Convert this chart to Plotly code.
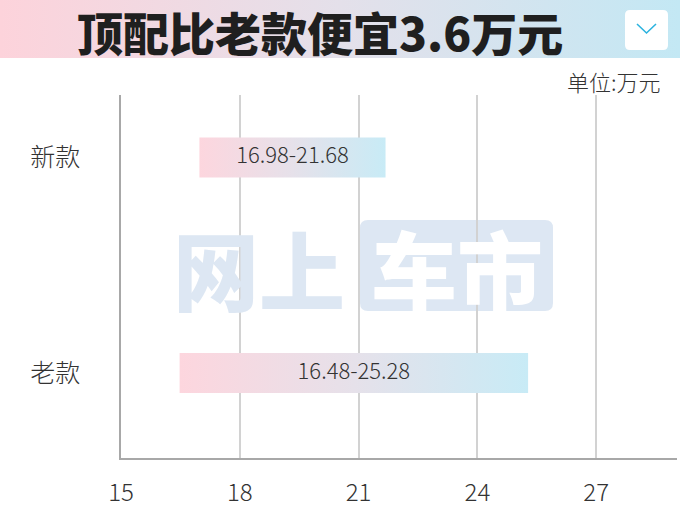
import plotly.graph_objects as go

# ---- data ----
categories = ["新款", "老款"]
low_values = [16.98, 16.48]
high_values = [21.68, 25.28]
range_labels = ["16.98-21.68", "16.48-25.28"]
x_tick_values = [15, 18, 21, 24, 27]
category_positions = [1, 0]
title_text = "顶配比老款便宜3.6万元"
unit_text = "单位:万元"

W, H = 680, 510
CJK = "Noto Sans CJK SC"


def fx(p):
    return p / W


def fy(p):
    return 1 - p / H


def rounded_rect(x0, y0, x1, y1, r):
    rx, ry = r / W, r / H
    X0, X1 = fx(x0), fx(x1)
    Y0, Y1 = fy(y1), fy(y0)
    return (f"M{X0+rx},{Y0} L{X1-rx},{Y0} Q{X1},{Y0} {X1},{Y0+ry} "
            f"L{X1},{Y1-ry} Q{X1},{Y1} {X1-rx},{Y1} L{X0+rx},{Y1} "
            f"Q{X0},{Y1} {X0},{Y1-ry} L{X0},{Y0+ry} Q{X0},{Y0} {X0+rx},{Y0} Z")


fig = go.Figure()

# header banner gradient (overlay axes)
fig.add_trace(go.Scatter(
    x=[0, 1, 1, 0, 0], y=[0, 0, 1, 1, 0], xaxis="x2", yaxis="y2",
    fill="toself", mode="lines", line=dict(width=0, color="rgba(0,0,0,0)"),
    fillgradient=dict(type="horizontal",
                      colorscale=[[0, "#fdd3db"], [0.5, "#e4e0ea"], [1, "#c3e8f4"]]),
    hoverinfo="skip", showlegend=False))

# range bars with gradient
half = 0.093
for cat, lo, hi, yp in zip(categories, low_values, high_values, category_positions):
    fig.add_trace(go.Scatter(
        x=[lo, hi, hi, lo, lo], y=[yp - half, yp - half, yp + half, yp + half, yp - half],
        fill="toself", mode="lines", line=dict(width=0, color="rgba(0,0,0,0)"),
        fillgradient=dict(type="horizontal",
                          colorscale=[[0, "#fdd6de"], [0.5, "#e6e1ea"], [1, "#c8ebf6"]]),
        hoverinfo="skip", showlegend=False, name=cat))

# bar labels
fig.add_trace(go.Scatter(
    x=[(lo + hi) / 2 for lo, hi in zip(low_values, high_values)],
    y=category_positions, mode="text", text=range_labels,
    textfont=dict(family=CJK, size=22, color="#333333", weight=300),
    hoverinfo="skip", showlegend=False))

shapes = [
    dict(type="path", xref="paper", yref="paper", layer="below",
         path=rounded_rect(360, 220, 553, 311, 8),
         fillcolor="#dde7f3", line=dict(width=0)),
    dict(type="path", xref="paper", yref="paper", layer="above",
         path=rounded_rect(625, 10, 668, 50, 5),
         fillcolor="#ffffff", line=dict(width=0)),
    dict(type="path", xref="paper", yref="paper", layer="above",
         path=f"M{fx(637)},{fy(24)} L{fx(646.5)},{fy(33)} L{fx(656)},{fy(24)}",
         line=dict(color="#2cb3df", width=1.6)),
]

annotations = [
    dict(text=title_text, x=fx(320), y=fy(31), xref="paper", yref="paper",
         showarrow=False, xanchor="center", yanchor="middle",
         font=dict(family=CJK, size=46, color="#1f1f1f", weight=900)),
    dict(text=unit_text, x=fx(663), y=fy(81), xref="paper", yref="paper",
         showarrow=False, xanchor="right", yanchor="middle",
         font=dict(family=CJK, size=22, color="#333333", weight=300)),
    dict(text="网上", x=fx(259), y=fy(267), xref="paper", yref="paper",
         showarrow=False, xanchor="center", yanchor="middle",
         font=dict(family=CJK, size=86, color="#dde7f3", weight=900)),
    dict(text="车市", x=fx(457), y=fy(267), xref="paper", yref="paper",
         showarrow=False, xanchor="center", yanchor="middle",
         font=dict(family=CJK, size=86, color="#ffffff", weight=900)),
]

fig.update_layout(
    template="none",
    width=W, height=H, margin=dict(l=0, r=0, t=0, b=0, pad=0, autoexpand=False),
    paper_bgcolor="white", plot_bgcolor="white",
    shapes=shapes, annotations=annotations,
    xaxis=dict(domain=[fx(121), fx(677)], range=[15, 29.04],
               tickvals=x_tick_values, ticktext=[str(v) for v in x_tick_values],
               showgrid=True, gridcolor="#d2d2d2", gridwidth=1.5,
               showline=True, linecolor="#a8a8a8", linewidth=1.5,
               ticks="", ticklabelstandoff=12, zeroline=False, automargin=False,
               tickfont=dict(family=CJK, size=24, color="#333333", weight=300),
               anchor="y", fixedrange=True),
    yaxis=dict(domain=[fy(458), fy(95)], range=[-0.394, 1.29],
               tickvals=category_positions, ticktext=categories,
               showgrid=False, showline=True, linecolor="#a8a8a8", linewidth=1.5,
               ticks="", ticklabelstandoff=34, zeroline=False, automargin=False,
               tickfont=dict(family=CJK, size=25, color="#333333", weight=300),
               anchor="x", fixedrange=True),
    xaxis2=dict(domain=[0, 1], range=[0, 1], visible=False, anchor="y2",
                fixedrange=True, automargin=False),
    yaxis2=dict(domain=[fy(58), 1], range=[0, 1], visible=False, anchor="x2",
                fixedrange=True, automargin=False),
)

fig.write_html(
    "out.html",
    config={"displayModeBar": False},
    post_script="document.body.style.margin='0px';document.body.style.padding='0px';"
                "document.documentElement.style.overflow='hidden';",
)
